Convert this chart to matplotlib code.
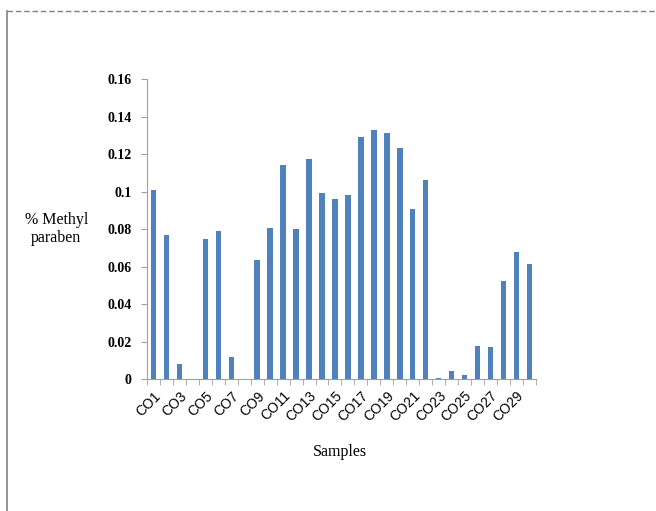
import numpy as np
import matplotlib.pyplot as plt
from matplotlib.lines import Line2D

samples = ["CO%d" % i for i in range(1, 31)]
methyl = [0.101, 0.077, 0.008, 0.0, 0.075, 0.079, 0.0117, 0.0, 0.0635, 0.0805,
          0.114, 0.080, 0.1175, 0.0995, 0.096, 0.0985, 0.129, 0.133, 0.1315, 0.1234,
          0.091, 0.1065, 0.0007, 0.0046, 0.002, 0.0176, 0.0172, 0.0526, 0.0677, 0.0613]
yticks = [0, 0.02, 0.04, 0.06, 0.08, 0.1, 0.12, 0.14, 0.16]
ytick_labels = ["0", "0.02", "0.04", "0.06", "0.08", "0.1", "0.12", "0.14", "0.16"]

fig = plt.figure(figsize=(6.56, 5.11), dpi=100)
ax = fig.add_axes([0.224, 0.258, 0.593, 0.587])

x = np.arange(len(samples))
ax.bar(x, methyl, width=0.42, color="#4F81BD")

ax.set_xlim(-0.5, len(samples) - 0.5)
ax.set_ylim(0, 0.16)

# category labels on every other bar, tick marks between categories
ax.set_xticks(x[::2])
ax.set_xticklabels(samples[::2], rotation=45, ha="right", rotation_mode="anchor",
                   fontsize=10, family="Liberation Sans")
ax.set_xticks(np.arange(-0.5, len(samples)), minor=True)
ax.tick_params(axis="x", which="major", length=0, pad=7)
ax.tick_params(axis="x", which="minor", length=4, color="#a0a0a0")

ax.set_yticks(yticks)
ax.set_yticklabels(ytick_labels, fontsize=10, family="Liberation Serif", fontweight="bold")
ax.tick_params(axis="y", length=4, color="#a0a0a0", pad=7)

for s in ["top", "right"]:
    ax.spines[s].set_visible(False)
ax.spines["left"].set_color("#a0a0a0")
ax.spines["bottom"].set_color("#a0a0a0")

fig.text(0.086, 0.552, "% Methyl\nparaben", ha="center", va="center",
         fontsize=11.5, family="Liberation Serif", linespacing=1.1)
fig.text(0.518, 0.115, "Samples", ha="center", va="center",
         fontsize=11.5, family="Liberation Serif")

# page frame
fig.add_artist(Line2D([0.011, 1.0], [0.979, 0.979], transform=fig.transFigure,
                      color="#808080", linestyle=(0, (4, 2)), linewidth=1))
fig.add_artist(Line2D([0.011, 0.011], [0.0, 0.979], transform=fig.transFigure,
                      color="#808080", linewidth=1.2))

fig.savefig("out.png", dpi=100)
